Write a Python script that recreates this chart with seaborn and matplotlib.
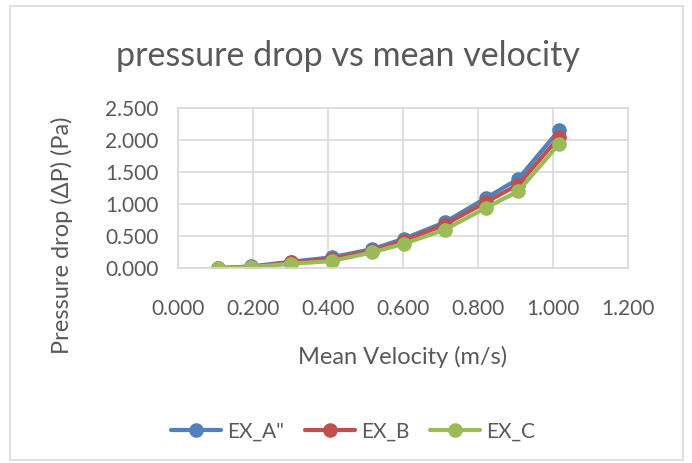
import matplotlib
matplotlib.use("Agg")
import matplotlib.pyplot as plt
import seaborn as sns
import pandas as pd
from matplotlib.ticker import FormatStrFormatter, MultipleLocator
from matplotlib.patches import Rectangle

velocity = [0.107, 0.195, 0.303, 0.410, 0.519, 0.603, 0.712, 0.821, 0.908, 1.017]
ex_a = [0.000, 0.026, 0.100, 0.167, 0.297, 0.458, 0.714, 1.089, 1.391, 2.151]
ex_b = [0.000, 0.016, 0.088, 0.146, 0.271, 0.427, 0.677, 1.026, 1.302, 2.042]
ex_c = [0.000, 0.016, 0.068, 0.109, 0.245, 0.380, 0.599, 0.938, 1.198, 1.938]
series_names = ['EX_A"', "EX_B", "EX_C"]
colors = ["#4F81BD", "#C0504D", "#9BBB59"]

df = pd.concat([
    pd.DataFrame({"v": velocity, "dp": vals, "series": name})
    for name, vals in zip(series_names, [ex_a, ex_b, ex_c])
])

sns.set_theme(style="white")
plt.rcParams["font.family"] = ["Lato", "DejaVu Sans"]

fig = plt.figure(figsize=(6.92, 4.63), dpi=100)
ax = fig.add_axes([0.257, 0.421, 0.650, 0.346])

sns.lineplot(data=df, x="v", y="dp", hue="series", palette=colors,
             marker="o", markersize=10.5, markeredgewidth=0, linewidth=3,
             ax=ax, sort=False, legend=True)

ax.set_xlim(0, 1.2)
ax.set_ylim(0, 2.5)
ax.xaxis.set_major_locator(MultipleLocator(0.2))
ax.yaxis.set_major_locator(MultipleLocator(0.5))
ax.xaxis.set_major_formatter(FormatStrFormatter("%.3f"))
ax.yaxis.set_major_formatter(FormatStrFormatter("%.3f"))
ax.grid(True, color="#D9D9D9", linewidth=1.2)
ax.set_axisbelow(True)
for s in ax.spines.values():
    s.set_color("#D9D9D9")
    s.set_linewidth(1.2)
ax.tick_params(axis="both", length=0, labelsize=15, colors="#595959")
ax.tick_params(axis="x", pad=22)
ax.tick_params(axis="y", pad=14)

ax.set_xlabel("")
ax.set_ylabel("")
fig.text(0.582, 0.229, "Mean Velocity (m/s)", ha="center", va="center",
         fontsize=17, color="#595959")
fig.text(0.09, 0.492, "Pressure drop (ΔP) (Pa)", ha="center", va="center",
         rotation=90, fontsize=17, color="#595959")

fig.text(0.503, 0.88, "pressure drop vs mean velocity", ha="center", va="center",
         fontsize=24.5, color="#595959")

handles, labels = ax.get_legend_handles_labels()
ax.legend(handles, labels, loc="center", bbox_to_anchor=(0.51, 0.068),
          bbox_transform=fig.transFigure, ncol=3, frameon=False,
          fontsize=15, handlelength=2.4, columnspacing=1.0, handletextpad=0.3,
          labelcolor="#595959")

fig.patches.append(Rectangle((0.015, 0.006), 0.972, 0.98, transform=fig.transFigure,
                             fill=False, edgecolor="#D9D9D9", linewidth=1.2))

fig.savefig("out.png", dpi=100, facecolor="white")
